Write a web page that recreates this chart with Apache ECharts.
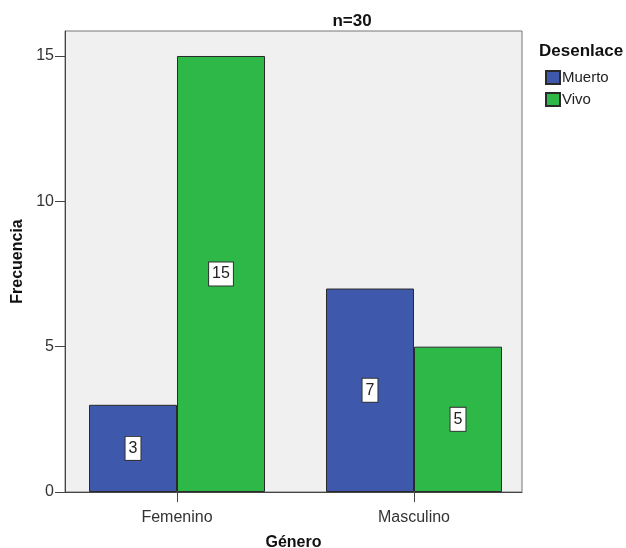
<!DOCTYPE html>
<html>
<head>
<meta charset="utf-8">
<script src="https://cdn.jsdelivr.net/npm/echarts@6/dist/echarts.min.js"></script>
<style>
  html, body { margin: 0; background: #ffffff; }
  #chart { width: 626px; height: 548px; }
</style>
</head>
<body>
<div id="chart"></div>
<script>
// Frecuencia por género y desenlace
const generos = ['Femenino', 'Masculino'];
const grupos = ['Muerto', 'Vivo'];
const muerto = [3, 7];
const vivo = [15, 5];
const yTicks = [0, 5, 10, 15];
const generoPos = [0, 1];

const FONT = 'Liberation Sans, Arial, sans-serif';
const colores = ['#3e58ac', '#2eb848'];

const barLabel = {
  show: true,
  position: 'inside',
  formatter: p => String(p.value[1]),
  backgroundColor: '#ffffff',
  borderColor: '#333333',
  borderWidth: 1,
  padding: [4, 3, 3, 3],
  color: '#222222',
  fontFamily: FONT,
  fontSize: 16
};

function serie(nombre, valores, color) {
  return {
    name: nombre,
    type: 'bar',
    barWidth: 88,
    barGap: '0%',
    data: valores.map((v, i) => [generoPos[i], v]),
    itemStyle: { color: color, borderColor: '#2a2a2a', borderWidth: 1 },
    label: barLabel
  };
}

const chart = echarts.init(document.getElementById('chart'), null, { renderer: 'canvas' });
chart.setOption({
  animation: false,
  backgroundColor: '#ffffff',
  textStyle: { fontFamily: FONT },
  title: [
    {
      text: 'n=30', left: 347, top: 8, textAlign: 'center',
      textStyle: { fontFamily: FONT, fontSize: 17, fontWeight: 'bold', color: '#111111' }
    },
    {
      text: 'Desenlace', left: 534, top: 38,
      textStyle: { fontFamily: FONT, fontSize: 17, fontWeight: 'bold', color: '#111111' }
    }
  ],
  legend: {
    data: grupos,
    orient: 'vertical',
    left: 545,
    top: 70,
    padding: 0,
    itemWidth: 14,
    itemHeight: 13,
    itemGap: 7,
    icon: 'rect',
    selectedMode: false,
    textStyle: { fontFamily: FONT, fontSize: 15, color: '#222222', padding: [0, 0, 0, -3] }
  },
  grid: {
    left: 65, top: 31, width: 457, height: 461,
    outerBoundsMode: 'none',
    containLabel: false,
    show: true,
    backgroundColor: '#f0f0f0',
    borderColor: '#777777',
    borderWidth: 1
  },
  xAxis: {
    type: 'value',
    min: -0.4726,
    max: 1.4557,
    name: 'Género',
    nameLocation: 'middle',
    nameGap: 43,
    nameTextStyle: { fontFamily: FONT, fontSize: 16, fontWeight: 'bold', color: '#111111' },
    axisLine: { show: true, onZero: false, lineStyle: { color: '#444444', width: 1 } },
    axisTick: { show: true, customValues: generoPos, length: 10, lineStyle: { color: '#444444' } },
    axisLabel: {
      customValues: generoPos,
      formatter: v => generos[Math.round(v)],
      margin: 18,
      fontFamily: FONT, fontSize: 16, color: '#333333'
    },
    splitLine: { show: false }
  },
  yAxis: {
    type: 'value',
    min: 0,
    max: 15.86,
    name: 'Frecuencia',
    nameLocation: 'middle',
    nameGap: 37,
    nameTextStyle: { fontFamily: FONT, fontSize: 16, fontWeight: 'bold', color: '#111111' },
    axisLine: { show: true, onZero: false, lineStyle: { color: '#444444', width: 1 } },
    axisTick: { show: true, customValues: yTicks, length: 10, lineStyle: { color: '#444444' } },
    axisLabel: {
      customValues: yTicks,
      margin: 11,
      fontFamily: FONT, fontSize: 16, color: '#333333'
    },
    splitLine: { show: false }
  },
  series: [
    serie(grupos[0], muerto, colores[0]),
    serie(grupos[1], vivo, colores[1])
  ]
});
</script>
</body>
</html>
